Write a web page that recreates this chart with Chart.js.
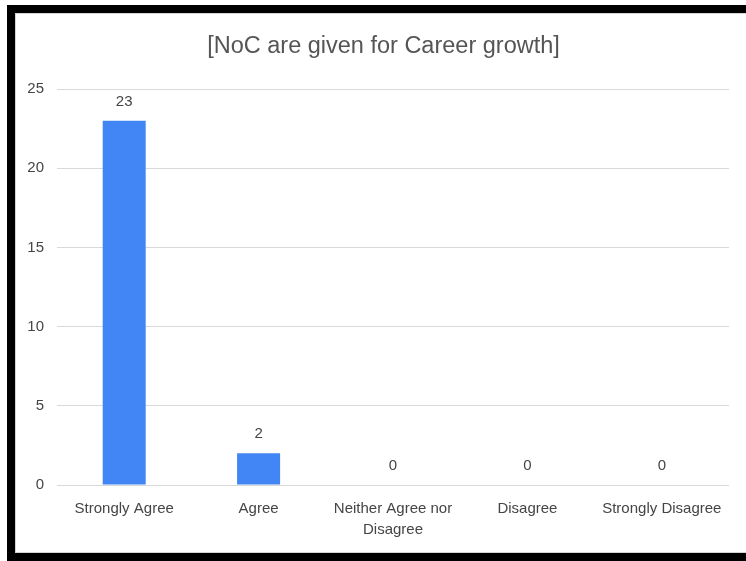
<!DOCTYPE html>
<html>
<head>
<meta charset="utf-8">
<script src="https://cdn.jsdelivr.net/npm/chart.js@4.4.0/dist/chart.umd.min.js"></script>
<style>
  body { margin: 0; background: #fff; }
  #frame {
    position: absolute; left: 7px; top: 5px; width: 739px; height: 556px;
    box-sizing: border-box;
    border-left: 8px solid #000; border-top: 8px solid #000; border-bottom: 8px solid #000;
  }
  #inner {
    position: absolute; left: 0; top: 0; width: 731px; height: 540px;
    box-sizing: border-box;
    border-left: 1px solid #d4d4d4; border-top: 1px solid #d4d4d4; border-bottom: 1px solid #d4d4d4;
  }
  #chart { position: absolute; left: 0; top: 0; }
</style>
</head>
<body>
<div id="frame">
  <div id="inner"></div>
  <canvas id="chart" width="731" height="540"></canvas>
</div>
<script>
  'use strict';

  const chartTitle = '[NoC are given for Career growth]';
  const categories = ['Strongly Agree', 'Agree', ['Neither Agree nor', 'Disagree'], 'Disagree', 'Strongly Disagree'];
  const responses = [23, 2, 0, 0, 0];
  const yTicks = [0, 5, 10, 15, 20, 25];

  const barColor = '#4285f4';
  const textColor = '#454545';
  const fontFamily = '"Liberation Sans", Arial, sans-serif';

  // value over each bar + title (the built-in one centres on the wrong spot)
  const textLayer = {
    id: 'textLayer',
    afterDatasetsDraw: function (chart) {
      const ctx = chart.ctx;
      ctx.save();
      ctx.font = '15px ' + fontFamily;
      ctx.fillStyle = textColor;
      ctx.textAlign = 'center';
      ctx.textBaseline = 'middle';
      chart.data.datasets.forEach((dataset, i) => {
        chart.getDatasetMeta(i).data.forEach((bar, j) => {
          ctx.fillText(String(dataset.data[j]), bar.x, bar.y - 19);
        });
      });

      ctx.font = '23.5px ' + fontFamily;
      ctx.fillStyle = '#555555';
      ctx.fillText(chartTitle, 368.5, 34);
      ctx.restore();
    }
  };

  new Chart(document.getElementById('chart'), {
    type: 'bar',
    data: {
      labels: categories,
      datasets: [{
        label: 'Responses',
        data: responses,
        backgroundColor: barColor,
        borderWidth: 0,
        barPercentage: 0.32,
        categoryPercentage: 1.0
      }]
    },
    options: {
      responsive: false,
      animation: false,
      layout: {
        padding: { left: 0, right: 17, top: 76, bottom: 0 }
      },
      scales: {
        x: {
          grid: { display: false, drawTicks: false },
          border: { display: false },
          ticks: {
            color: textColor,
            font: { family: fontFamily, size: 15, lineHeight: 1.4 },
            padding: 13,
            maxRotation: 0,
            autoSkip: false
          },
          afterFit: function (scale) { scale.height = 68; }
        },
        y: {
          min: 0,
          max: yTicks[yTicks.length - 1],
          grid: { color: '#d9d9d9', lineWidth: 1, drawTicks: false },
          border: { display: false },
          ticks: {
            stepSize: yTicks[1] - yTicks[0],
            color: textColor,
            font: { family: fontFamily, size: 15 },
            padding: 13
          },
          afterFit: function (scale) { scale.width = 42; }
        }
      },
      plugins: {
        legend: { display: false },
        tooltip: { enabled: false },
        title: { display: false }
      }
    },
    plugins: [textLayer]
  });
</script>
</body>
</html>
